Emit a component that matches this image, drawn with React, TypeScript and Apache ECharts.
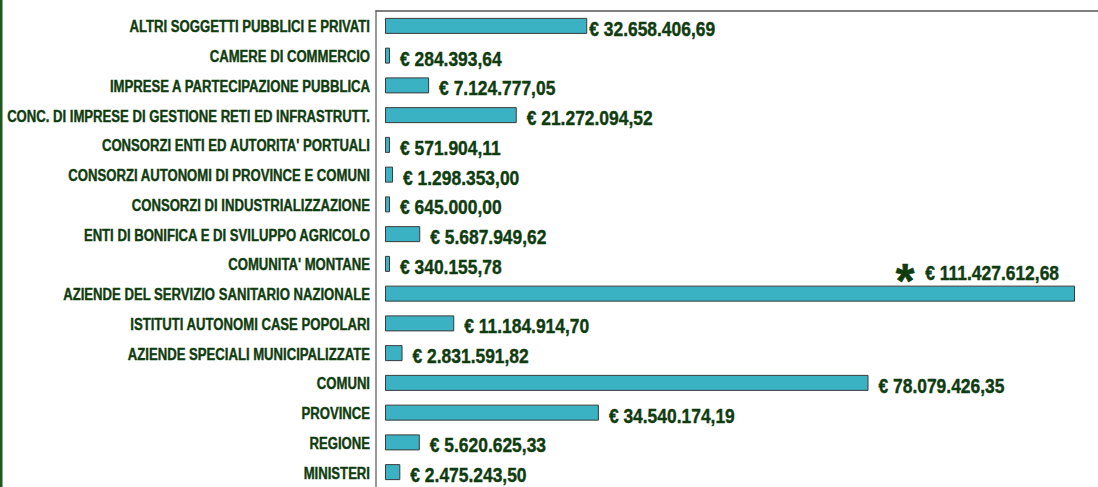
import React, { useEffect, useRef } from 'react';
import * as echarts from 'echarts';

const categories: string[] = [
  'ALTRI SOGGETTI PUBBLICI E PRIVATI',
  'CAMERE DI COMMERCIO',
  'IMPRESE A PARTECIPAZIONE PUBBLICA',
  'CONC. DI IMPRESE DI GESTIONE RETI ED INFRASTRUTT.',
  "CONSORZI ENTI ED AUTORITA' PORTUALI",
  'CONSORZI AUTONOMI DI PROVINCE E COMUNI',
  'CONSORZI DI INDUSTRIALIZZAZIONE',
  'ENTI DI BONIFICA E DI SVILUPPO AGRICOLO',
  "COMUNITA' MONTANE",
  'AZIENDE DEL SERVIZIO SANITARIO NAZIONALE',
  'ISTITUTI AUTONOMI CASE POPOLARI',
  'AZIENDE SPECIALI MUNICIPALIZZATE',
  'COMUNI',
  'PROVINCE',
  'REGIONE',
  'MINISTERI',
];

const amounts: number[] = [
  32658406.69,
  284393.64,
  7124777.05,
  21272094.52,
  571904.11,
  1298353.0,
  645000.0,
  5687949.62,
  340155.78,
  111427612.68,
  11184914.7,
  2831591.82,
  78079426.35,
  34540174.19,
  5620625.33,
  2475243.5,
];

const highlighted: string[] = ['AZIENDE DEL SERVIZIO SANITARIO NAZIONALE'];

function fmt(v: number): string {
  const [i, d] = v.toFixed(2).split('.');
  return '€ ' + i.replace(/\B(?=(\d{3})+(?!\d))/g, '.') + ',' + d;
}

const GREEN = '#0f3c0f';
const FONT = "'Liberation Sans', Arial, sans-serif";
const CAT_SCALE = 0.82;
const VAL_SCALE = 0.83;
const MIN_BAR = 5;

export default function App() {
  const ref = useRef<HTMLDivElement>(null);
  useEffect(() => {
    if (!ref.current) return;
    const chart = echarts.init(ref.current, undefined, { renderer: 'svg' });
    const xMin = -1453400;
    const border = {
      type: 'rect',
      shape: { x: 0, y: 0, width: 2.5, height: 487 },
      style: { fill: '#1e5a1e' },
    };
    chart.setOption({
      animation: false,
      backgroundColor: '#ffffff',
      grid: { left: 376, top: 11, right: 0, bottom: 0, outerBoundsMode: 'none' },
      xAxis: {
        type: 'value',
        position: 'top',
        min: xMin,
        max: 115140000,
        axisLine: { show: true, lineStyle: { color: '#555555', width: 1.5 } },
        axisTick: { show: false },
        axisLabel: { show: false },
        splitLine: { show: false },
      },
      yAxis: {
        type: 'category',
        inverse: true,
        data: categories,
        axisLine: { show: true, onZero: false, lineStyle: { color: '#777777', width: 1.5 } },
        axisTick: { show: false },
        axisLabel: { show: false },
      },
      series: [
        {
          type: 'bar',
          data: amounts,
          barWidth: 16,
          barMinHeight: MIN_BAR,
          itemStyle: { color: '#3bb2c3', borderColor: '#3a3a3a', borderWidth: 1 },
          label: { show: false },
        },
      ],
      graphic: [border],
    });

    const axisX = chart.convertToPixel({ xAxisIndex: 0 }, xMin) as number;
    const zeroX = chart.convertToPixel({ xAxisIndex: 0 }, 0) as number;
    const texts: any[] = [];
    categories.forEach((name, idx) => {
      const cy = chart.convertToPixel({ yAxisIndex: 0 }, idx) as number;
      texts.push({
        type: 'text',
        x: axisX - 6,
        y: cy + 1,
        scaleX: CAT_SCALE,
        style: {
          text: name,
          fill: GREEN,
          stroke: GREEN,
          lineWidth: 0.4,
          font: `bold 16px ${FONT}`,
          align: 'right',
          verticalAlign: 'middle',
        },
      });
      const v = amounts[idx];
      const endX = Math.max(chart.convertToPixel({ xAxisIndex: 0 }, v) as number, zeroX + MIN_BAR);
      if (highlighted.includes(name)) {
        texts.push({
          type: 'text',
          x: endX - 16,
          y: cy - 21,
          scaleX: VAL_SCALE,
          style: {
            text: fmt(v),
            fill: GREEN,
            stroke: GREEN,
            lineWidth: 0.4,
            font: `bold 21px ${FONT}`,
            align: 'right',
            verticalAlign: 'middle',
          },
        });
        texts.push({
          type: 'text',
          x: endX - 170,
          y: cy - 13,
          style: {
            text: '*',
            fill: GREEN,
            stroke: GREEN,
            lineWidth: 0.6,
            font: `bold 48px ${FONT}`,
            align: 'center',
            verticalAlign: 'middle',
          },
        });
      } else {
        const gap = idx === 0 ? 2 : 10;
        texts.push({
          type: 'text',
          x: endX + gap,
          y: cy + 3,
          scaleX: VAL_SCALE,
          style: {
            text: fmt(v),
            fill: GREEN,
            stroke: GREEN,
            lineWidth: 0.4,
            font: `bold 21px ${FONT}`,
            align: 'left',
            verticalAlign: 'middle',
          },
        });
      }
    });
    chart.setOption({ graphic: [border, ...texts] });
    return () => chart.dispose();
  }, []);
  return (
    <div
      ref={ref}
      style={{ position: 'fixed', left: 0, top: 0, width: 1098, height: 487, background: '#fff' }}
    />
  );
}
